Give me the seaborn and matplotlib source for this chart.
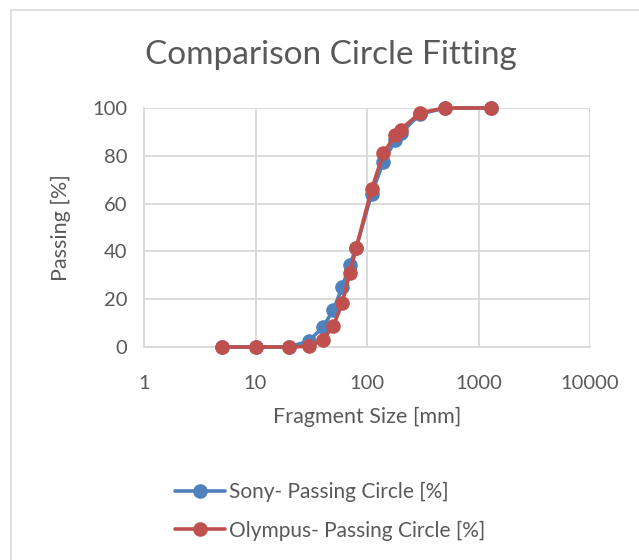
import matplotlib
matplotlib.use("Agg")
import matplotlib.pyplot as plt
import seaborn as sns
import pandas as pd
from matplotlib.patches import Rectangle
from matplotlib.ticker import FixedLocator, FixedFormatter
from matplotlib.lines import Line2D

size_mm = [5, 10, 20, 30, 40, 50, 60, 70, 80, 110, 140, 180, 200, 300, 500, 1300]
sony = [0, 0, 0, 2.5, 8.2, 15.5, 25.2, 34.3, 41.5, 64, 77.5, 86.6, 89.4, 97.5, 100, 100]
olympus = [0, 0, 0, 0.3, 2.9, 8.8, 18.5, 30.8, 41.5, 66, 81, 88.7, 91, 98, 100, 100]
series_names = ["Sony- Passing Circle [%]", "Olympus- Passing Circle [%]"]
x_ticks = [1, 10, 100, 1000, 10000]
x_tick_labels = ["1", "10", "100", "1000", "10000"]
y_ticks = [0, 20, 40, 60, 80, 100]

df = pd.concat([
    pd.DataFrame({"size": size_mm, "passing": sony, "series": series_names[0]}),
    pd.DataFrame({"size": size_mm, "passing": olympus, "series": series_names[1]}),
])

sns.set_theme(style="white")
plt.rcParams["font.family"] = ["Lato", "DejaVu Sans"]
text_color = "#595959"
grid_color = "#d9d9d9"
palette = {series_names[0]: "#4F81BD", series_names[1]: "#C0504D"}

fig = plt.figure(figsize=(6.39, 5.6), dpi=100)
fig.patch.set_facecolor("white")
ax = fig.add_axes([144/639, 1-347/560, (590-144)/639, (347-108)/560])

sns.lineplot(data=df, x="size", y="passing", hue="series", palette=palette,
             marker="o", markersize=10.5, markeredgewidth=0, linewidth=2.6,
             ax=ax, legend=False, sort=False, clip_on=False, zorder=5)

ax.set_xscale("log")
ax.set_xlim(1, 10000)
ax.set_ylim(0, 100)
ax.xaxis.set_major_locator(FixedLocator(x_ticks))
ax.xaxis.set_major_formatter(FixedFormatter(x_tick_labels))
ax.xaxis.set_minor_locator(FixedLocator([]))
ax.set_yticks(y_ticks)
ax.grid(True, color=grid_color, linewidth=1.3)
for side in ["top", "right"]:
    ax.spines[side].set_visible(False)
for side in ["left", "bottom"]:
    ax.spines[side].set_color(grid_color)
    ax.spines[side].set_linewidth(1.3)
ax.tick_params(axis="both", length=0, labelsize=14.5, colors=text_color)
ax.tick_params(axis="x", pad=20)
ax.tick_params(axis="y", pad=12)
ax.set_xlabel("Fragment Size [mm]", fontsize=15.5, color=text_color, labelpad=11)
ax.set_ylabel("Passing [%]", fontsize=15.5, color=text_color, labelpad=15)

fig.text(331/639, 1-55/560, "Comparison Circle Fitting", ha="center", va="center",
         fontsize=24, color=text_color)

handles = [Line2D([], [], color=palette[n], marker="o", markersize=10.5,
                  markeredgewidth=0, linewidth=2.6) for n in series_names]
leg = fig.legend(handles, series_names, loc="upper left",
                 bbox_to_anchor=(156/639, 1-463/560), frameon=False,
                 fontsize=15, labelspacing=0.9, handlelength=2.4,
                 handletextpad=0.2, labelcolor=text_color)

fig.patches.append(Rectangle((11/639, -0.05), 1.0, 1 - 10/560 + 0.05,
                             transform=fig.transFigure, fill=False,
                             edgecolor="#d9d9d9", linewidth=1.2))

fig.savefig("out.png", dpi=100)
